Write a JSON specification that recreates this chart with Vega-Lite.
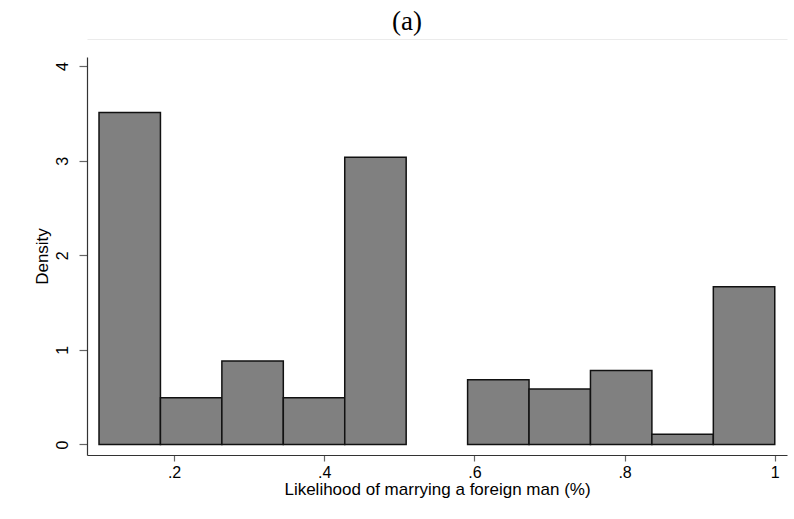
{
  "$schema": "https://vega.github.io/schema/vega-lite/v6.json",
  "autosize": {"type": "none"},
  "padding": {"left": 87, "top": 57, "right": 7, "bottom": 64},
  "width": 700,
  "height": 398,
  "title": {"text": "(a)", "font": "Liberation Serif", "fontSize": 27, "fontWeight": "normal", "color": "#000000", "anchor": "middle", "dx": -30, "baseline": "alphabetic", "offset": -18},
  "config": {
    "view": {"stroke": null},
    "axis": {"labelFont": "Liberation Sans", "titleFont": "Liberation Sans", "labelFontSize": 16, "titleFontSize": 17, "titleFontWeight": "normal", "labelColor": "#000000", "titleColor": "#000000", "grid": false, "domainColor": "#333333", "tickColor": "#666666", "domainWidth": 1.2, "tickWidth": 1.2}
  },
  "data": {"values": [
    {"bin_start": 0.1, "bin_end": 0.181818, "density": 3.51},
    {"bin_start": 0.181818, "bin_end": 0.263636, "density": 0.495},
    {"bin_start": 0.263636, "bin_end": 0.345455, "density": 0.883},
    {"bin_start": 0.345455, "bin_end": 0.427273, "density": 0.495},
    {"bin_start": 0.427273, "bin_end": 0.509091, "density": 3.036},
    {"bin_start": 0.590909, "bin_end": 0.672727, "density": 0.684},
    {"bin_start": 0.672727, "bin_end": 0.754545, "density": 0.587},
    {"bin_start": 0.754545, "bin_end": 0.836364, "density": 0.782},
    {"bin_start": 0.836364, "bin_end": 0.918182, "density": 0.108},
    {"bin_start": 0.918182, "bin_end": 1.0, "density": 1.668}
  ]},
  "layer": [
    {
      "mark": {"type": "bar", "fill": "#808080", "stroke": "#111111", "strokeWidth": 1.5},
      "encoding": {
        "x": {"field": "bin_start", "type": "quantitative", "scale": {"domain": [0.084, 1.0163], "nice": false, "zero": false},
              "axis": {"title": "Likelihood of marrying a foreign man (%)", "values": [0.2, 0.4, 0.6, 0.8, 1], "labelExpr": "datum.value == 1 ? '1' : replace(format(datum.value, '.1f'), '0.', '.')", "tickSize": 6, "labelPadding": 3, "titlePadding": 1}},
        "x2": {"field": "bin_end"},
        "y": {"field": "density", "type": "quantitative", "scale": {"domain": [-0.111, 4.096], "nice": false, "zero": false},
              "axis": {"title": "Density", "values": [0, 1, 2, 3, 4], "labelAngle": -90, "labelAlign": "center", "labelBaseline": "bottom", "tickSize": 8, "labelPadding": 9, "titlePadding": 3}},
        "y2": {"datum": 0}
      }
    },
    {
      "mark": {"type": "bar", "opacity": 0},
      "encoding": {
        "x": {"field": "bin_start", "type": "quantitative", "axis": {"orient": "top", "offset": 18, "ticks": false, "labels": false, "title": null, "domainColor": "#ebebeb", "domainWidth": 1}},
        "x2": {"field": "bin_end"},
        "y": {"field": "density", "type": "quantitative", "axis": null},
        "y2": {"datum": 0}
      }
    }
  ],
  "resolve": {"axis": {"x": "independent", "y": "independent"}}
}
